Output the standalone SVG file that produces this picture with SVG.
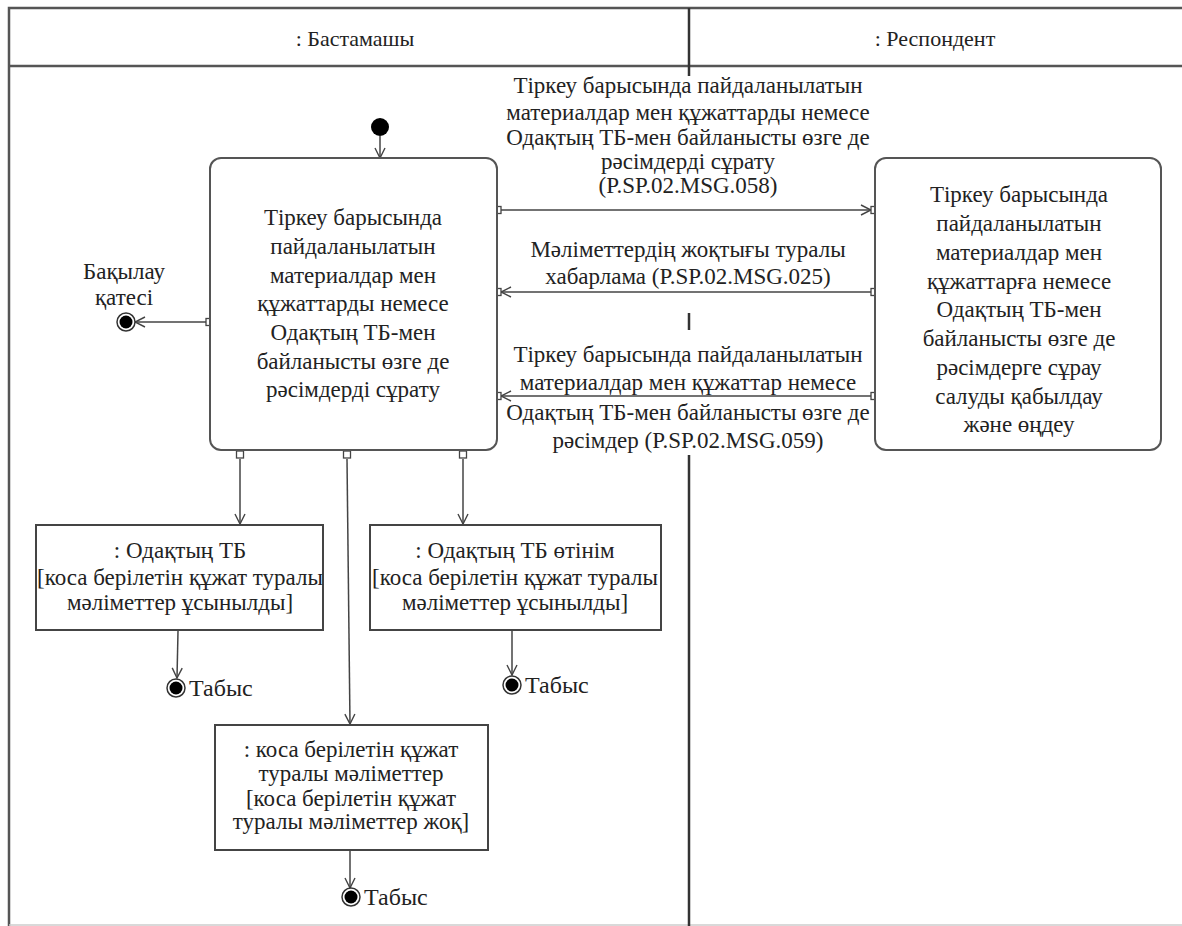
<svg xmlns="http://www.w3.org/2000/svg" width="1182" height="926" viewBox="0 0 1182 926">
<defs>
<style>
.frame{fill:none;stroke:#555;stroke-width:2.5}
.act{fill:#fff;stroke:#555;stroke-width:2}
.obj{fill:#fff;stroke:#444;stroke-width:2}
text{font-family:'Liberation Serif','DejaVu Serif',serif}
.t{font-size:23px;fill:#222;text-anchor:middle}
.h{font-size:22px;fill:#222;text-anchor:middle}
.lbl{font-size:24px;fill:#222;text-anchor:start}
.c{fill:none;stroke:#444;stroke-width:1.5}
.pin{fill:#fff;stroke:#444;stroke-width:1.3}
</style>
<marker id="arr" viewBox="0 0 12 12" refX="11" refY="6" markerWidth="12" markerHeight="12" markerUnits="userSpaceOnUse" orient="auto">
<path d="M1,1 L11,6 L1,11" fill="none" stroke="#444" stroke-width="1.4"/>
</marker>
</defs>
<rect width="1182" height="926" fill="#fff"/>
<g id="frame">
<path class="frame" d="M1182,8 H9 V926"/>
<line class="frame" x1="9" y1="66" x2="1182" y2="66"/>
<line x1="9" y1="925" x2="1182" y2="925" stroke="#ccc" stroke-width="1.5"/>
<line x1="689" y1="8" x2="689" y2="76" stroke="#333" stroke-width="2.5"/>
<line x1="689" y1="313" x2="689" y2="330" stroke="#333" stroke-width="2.5"/>
<line x1="689" y1="455" x2="689" y2="926" stroke="#333" stroke-width="2.5"/>
<text class="h" x="355" y="46">: Бастамашы</text>
<text class="h" x="935" y="46">: Респондент</text>
</g>
<g id="connectors">
<line class="c" x1="380" y1="136" x2="380" y2="158" marker-end="url(#arr)"/>
<line class="c" x1="497" y1="210" x2="871" y2="210" marker-end="url(#arr)"/>
<line class="c" x1="871" y1="292" x2="501" y2="292" marker-end="url(#arr)"/>
<line class="c" x1="871" y1="396" x2="501" y2="396" marker-end="url(#arr)"/>
<line class="c" x1="206" y1="322" x2="135" y2="322" marker-end="url(#arr)"/>
<line class="c" x1="240" y1="459" x2="240" y2="524" marker-end="url(#arr)"/>
<line class="c" x1="463" y1="459" x2="463" y2="524" marker-end="url(#arr)"/>
<line class="c" x1="347" y1="459" x2="350" y2="724" marker-end="url(#arr)"/>
<line class="c" x1="178" y1="631" x2="177" y2="678" marker-end="url(#arr)"/>
<line class="c" x1="512" y1="631" x2="512" y2="675" marker-end="url(#arr)"/>
<line class="c" x1="350" y1="851" x2="350" y2="888" marker-end="url(#arr)"/>
<rect class="pin" x="494" y="206.5" width="7" height="7"/>
<rect class="pin" x="871" y="206.5" width="7" height="7"/>
<rect class="pin" x="494" y="288.5" width="7" height="7"/>
<rect class="pin" x="871" y="288.5" width="7" height="7"/>
<rect class="pin" x="494" y="392.5" width="7" height="7"/>
<rect class="pin" x="871" y="392.5" width="7" height="7"/>
<rect class="pin" x="206" y="318.5" width="7" height="7"/>
<rect class="pin" x="236.5" y="451" width="7" height="7"/>
<rect class="pin" x="343.5" y="451" width="7" height="7"/>
<rect class="pin" x="459.5" y="451" width="7" height="7"/>
</g>
<g id="msg1">
<text class="t" x="688" y="93">Тіркеу барысында пайдаланылатын</text>
<text class="t" x="688" y="120">материалдар мен құжаттарды немесе</text>
<text class="t" x="688" y="145">Одақтың ТБ-мен байланысты өзге де</text>
<text class="t" x="688" y="169">рәсімдерді сұрату</text>
<text class="t" x="688" y="193">(P.SP.02.MSG.058)</text>
</g>
<g id="msg2">
<text class="t" x="688" y="257">Мәліметтердің жоқтығы туралы</text>
<text class="t" x="688" y="284">хабарлама (P.SP.02.MSG.025)</text>
</g>
<g id="msg3">
<text class="t" x="688" y="362">Тіркеу барысында пайдаланылатын</text>
<text class="t" x="688" y="390">материалдар мен құжаттар немесе</text>
<text class="t" x="688" y="420">Одақтың ТБ-мен байланысты өзге де</text>
<text class="t" x="688" y="448">рәсімдер (P.SP.02.MSG.059)</text>
</g>
<g id="initial">
<circle cx="380" cy="127" r="9" fill="#000"/>
</g>
<g id="request">
<rect class="act" x="210" y="158" width="287" height="292" rx="11"/>
<text class="t" x="353" y="225">Тіркеу барысында</text>
<text class="t" x="353" y="254">пайдаланылатын</text>
<text class="t" x="353" y="283">материалдар мен</text>
<text class="t" x="353" y="311">құжаттарды немесе</text>
<text class="t" x="353" y="340">Одақтың ТБ-мен</text>
<text class="t" x="353" y="369">байланысты өзге де</text>
<text class="t" x="353" y="397">рәсімдерді сұрату</text>
</g>
<g id="respond">
<rect class="act" x="875" y="158" width="286" height="292" rx="11"/>
<text class="t" x="1019" y="202">Тіркеу барысында</text>
<text class="t" x="1019" y="231">пайдаланылатын</text>
<text class="t" x="1019" y="260">материалдар мен</text>
<text class="t" x="1019" y="289">құжаттарға немесе</text>
<text class="t" x="1019" y="317">Одақтың ТБ-мен</text>
<text class="t" x="1019" y="346">байланысты өзге де</text>
<text class="t" x="1019" y="375">рәсімдерге сұрау</text>
<text class="t" x="1019" y="404">салуды қабылдау</text>
<text class="t" x="1019" y="432">және өңдеу</text>
</g>
<g id="error">
<circle cx="126" cy="322" r="9" fill="#fff" stroke="#333" stroke-width="1.5"/>
<circle cx="126" cy="322" r="6.5" fill="#000"/>
<text class="t" x="124" y="279">Бақылау</text>
<text class="t" x="124" y="305">қатесі</text>
</g>
<g id="obj1">
<rect class="obj" x="36" y="525" width="287" height="105"/>
<text class="t" x="180" y="558">: Одақтың ТБ</text>
<text class="t" x="180" y="585">[коса берілетін құжат туралы</text>
<text class="t" x="180" y="610">мәліметтер ұсынылды]</text>
</g>
<g id="obj2">
<rect class="obj" x="370" y="525" width="291" height="105"/>
<text class="t" x="515" y="558">: Одақтың ТБ өтінім</text>
<text class="t" x="515" y="585">[коса берілетін құжат туралы</text>
<text class="t" x="515" y="610">мәліметтер ұсынылды]</text>
</g>
<g id="obj3">
<rect class="obj" x="215" y="725" width="273" height="125"/>
<text class="t" x="351" y="757">: коса берілетін құжат</text>
<text class="t" x="351" y="781">туралы мәліметтер</text>
<text class="t" x="351" y="806">[коса берілетін құжат</text>
<text class="t" x="351" y="829">туралы мәліметтер жоқ]</text>
</g>
<g id="final1">
<circle cx="176" cy="688" r="9" fill="#fff" stroke="#333" stroke-width="1.5"/>
<circle cx="176" cy="688" r="6.5" fill="#000"/>
<text class="lbl" x="189" y="696">Табыс</text>
</g>
<g id="final2">
<circle cx="512" cy="685" r="9" fill="#fff" stroke="#333" stroke-width="1.5"/>
<circle cx="512" cy="685" r="6.5" fill="#000"/>
<text class="lbl" x="525" y="693">Табыс</text>
</g>
<g id="final3">
<circle cx="351" cy="897" r="9" fill="#fff" stroke="#333" stroke-width="1.5"/>
<circle cx="351" cy="897" r="6.5" fill="#000"/>
<text class="lbl" x="364" y="905">Табыс</text>
</g>
</svg>
